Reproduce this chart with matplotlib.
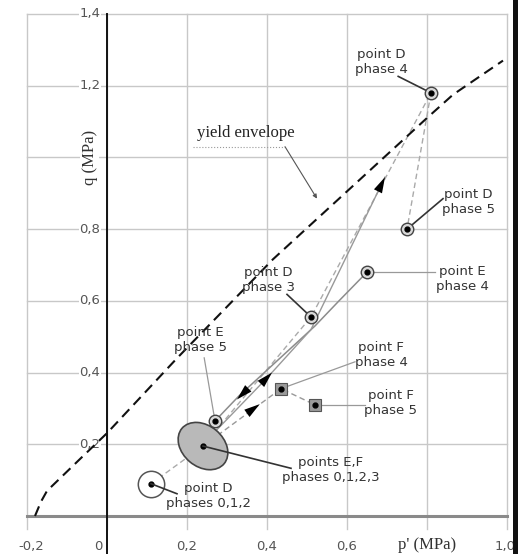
import matplotlib
matplotlib.use("Agg")
import matplotlib.pyplot as plt
import matplotlib.transforms as mtrans
from matplotlib.patches import Ellipse, Rectangle

# yield envelope (p', q) in MPa
env_p = [-0.18, -0.165, -0.15, -0.06, 0.0, 0.175, 0.3325, 0.415, 0.80, 0.865, 0.99]
env_q = [0.0, 0.04, 0.07, 0.167, 0.231, 0.44, 0.621, 0.716, 1.11, 1.175, 1.27]

# stress paths
d_p = [0.11, 0.24, 0.51, 0.81, 0.75]      # point D, phases 0-2, 3, 4, 5
d_q = [0.09, 0.195, 0.555, 1.18, 0.80]
e_p = [0.27, 0.33, 0.52, 0.58, 0.65]       # point E, phase 5 back to phase 4
e_q = [0.265, 0.335, 0.53, 0.60, 0.68]
e2_p = [0.27, 0.40, 0.51, 0.695]           # loading direction arrow
e2_q = [0.235, 0.385, 0.52, 0.945]
f_p = [0.24, 0.435, 0.52]                  # point F, phases 0-3, 4, 5
f_q = [0.195, 0.355, 0.31]

# marked points
circ_p = [0.81, 0.75, 0.65, 0.51, 0.27]
circ_q = [1.18, 0.80, 0.68, 0.555, 0.265]
sq_p = [0.435, 0.52]
sq_q = [0.355, 0.31]
ef0 = (0.24, 0.195)
d0 = (0.11, 0.09)

xticks = [-0.2, 0.0, 0.2, 0.4, 0.6, 0.8, 1.0]
xlabels = ["-0,2", "0", "0,2", "0,4", "0,6", "p' (MPa)", "1,0"]
yticks = [0.2, 0.4, 0.6, 0.8, 1.0, 1.2, 1.4]
ylabels = ["0,2", "0,4", "0,6", "0,8", "q (MPa)", "1,2", "1,4"]

fig = plt.figure(figsize=(5.18, 5.54), dpi=100)
ax = fig.add_axes([0, 0, 1, 1])
ax.set_xlim(-0.2675, 1.0275)
ax.set_ylim(-0.106, 1.439)
ax.axis("off")

grid_c = "#c8c8c8"
for x in xticks:
    ax.plot([x, x], [-0.035, 1.4], color=grid_c, lw=1, zorder=1)
for y in yticks:
    ax.plot([-0.2, 1.0], [y, y], color=grid_c, lw=1, zorder=1)
ax.plot([-0.2, 1.0], [0, 0], color="#8a8a8a", lw=2.2, zorder=2)
ax.plot([0, 0], [-0.106, 1.4], color="#111111", lw=1.4, zorder=2)

sans = "DejaVu Sans"
for x, lab in zip(xticks, xlabels):
    if lab.startswith("p"):
        ax.text(x, -0.082, lab, ha="center", va="center", fontsize=12,
                family="Liberation Serif", color="#333333")
    else:
        xx = {-0.2: -0.19, 0.0: -0.022, 1.0: 0.995}.get(x, x)
        ax.text(xx, -0.085, lab, ha="center", va="center", fontsize=9.5,
                family=sans, color="#555555")
for y, lab in zip(yticks, ylabels):
    if lab.startswith("q"):
        ax.text(-0.043, y, lab, ha="center", va="center", fontsize=12, rotation=90,
                family="Liberation Serif", color="#333333",
                bbox=dict(fc="white", ec="none", pad=1))
    else:
        ax.text(-0.043, y, lab, ha="center", va="center", fontsize=9.5,
                family=sans, color="#555555",
                bbox=dict(fc="white", ec="none", pad=0.5))

# yield envelope
ax.plot(env_p, env_q, color="#111111", lw=1.5, dashes=(5, 3), zorder=4)
ax.text(0.3475, 1.068, "yield envelope", ha="center", va="center", fontsize=12,
        family="Liberation Serif", color="#222222")
ax.plot([0.215, 0.445], [1.03, 1.03], color="#999999", lw=0.8, ls=":", zorder=3)
ax.annotate("", xy=(0.525, 0.885), xytext=(0.445, 1.03),
            arrowprops=dict(arrowstyle="-|>", color="#555555", lw=0.8,
                            mutation_scale=6, shrinkA=0, shrinkB=0))

# paths
ax.plot(d_p, d_q, color="#aaaaaa", lw=1, dashes=(4, 2.5), zorder=3)
ax.plot(f_p, f_q, color="#999999", lw=1, dashes=(4, 2.5), zorder=3)
ax.plot(e_p, e_q, color="#8c8c8c", lw=1.1, zorder=3)
ax.plot(e2_p, e2_q, color="#999999", lw=1, zorder=3)

def arrow_head(tip, tail):
    ax.annotate("", xy=tip, xytext=tail,
                arrowprops=dict(arrowstyle="-|>,head_length=0.6,head_width=0.17",
                                color="black", lw=0,
                                mutation_scale=19, shrinkA=0, shrinkB=0), zorder=6)

arrow_head((e2_p[3], e2_q[3]), (0.675, 0.90))
arrow_head((0.4125, 0.40), (0.395, 0.38))
arrow_head((0.325, 0.325), (0.345, 0.347))
arrow_head((0.382, 0.312), (0.362, 0.296))

# points E,F phases 0-3 and point D phases 0-2
off = fig.dpi_scale_trans + mtrans.ScaledTranslation(ef0[0], ef0[1], ax.transData)
ax.add_patch(Ellipse((0, 0), 0.55, 0.41, angle=-40, transform=off,
                     fc="#b9b9b9", ec="#444444", lw=1.2, zorder=5))
ax.plot(*ef0, "o", color="black", ms=3.5, zorder=6)
ax.plot(*d0, "o", ms=19, mfc="white", mec="#555555", mew=1.1, zorder=5)
ax.plot(*d0, "o", color="black", ms=3.5, zorder=6)

ax.plot(circ_p, circ_q, "o", ls="none", ms=9, mfc="#d8d8d8", mec="#444444",
        mew=1, zorder=7)
ax.plot(circ_p, circ_q, "o", ls="none", ms=3.5, color="black", zorder=8)
ax.plot(sq_p, sq_q, "s", ls="none", ms=8, mfc="#9a9a9a", mec="#555555",
        mew=0.8, zorder=7)
ax.plot(sq_p, sq_q, "o", ls="none", ms=3.5, color="black", zorder=8)

# labels with leaders: text, text centre, leader start, target, leader colour
dark, light = "#333333", "#999999"
notes = [
    ("point D\nphase 4", (0.685, 1.266), (0.728, 1.226), (0.81, 1.18), dark),
    ("point D\nphase 5", (0.903, 0.876), (0.84, 0.885), (0.75, 0.80), dark),
    ("point E\nphase 4", (0.888, 0.661), (0.82, 0.68), (0.65, 0.68), light),
    ("point D\nphase 3", (0.403, 0.658), (0.45, 0.618), (0.51, 0.555), dark),
    ("point E\nphase 5", (0.233, 0.491), (0.243, 0.441), (0.27, 0.265), light),
    ("point F\nphase 4", (0.685, 0.449), (0.62, 0.43), (0.435, 0.355), light),
    ("point F\nphase 5", (0.71, 0.315), (0.645, 0.31), (0.52, 0.31), light),
    ("points E,F\nphases 0,1,2,3", (0.56, 0.128), (0.46, 0.133), ef0, dark),
    ("point D\nphases 0,1,2", (0.253, 0.056), (0.175, 0.062), d0, dark),
]
for txt, pos, start, end, col in notes:
    ax.text(pos[0], pos[1], txt, ha="center", va="center", fontsize=9.5,
            family=sans, color="#333333", linespacing=1.15, zorder=9)
    ax.plot([start[0], end[0]], [start[1], end[1]], color=col,
            lw=1.2 if col == dark else 0.9, zorder=6)

# dark strip at the right edge of the scan
fig.patches.append(Rectangle((513 / 518, 0), 5 / 518, 1, transform=fig.transFigure,
                             fc="#111111", ec="none"))

fig.savefig("out.png", dpi=100, facecolor="white")
